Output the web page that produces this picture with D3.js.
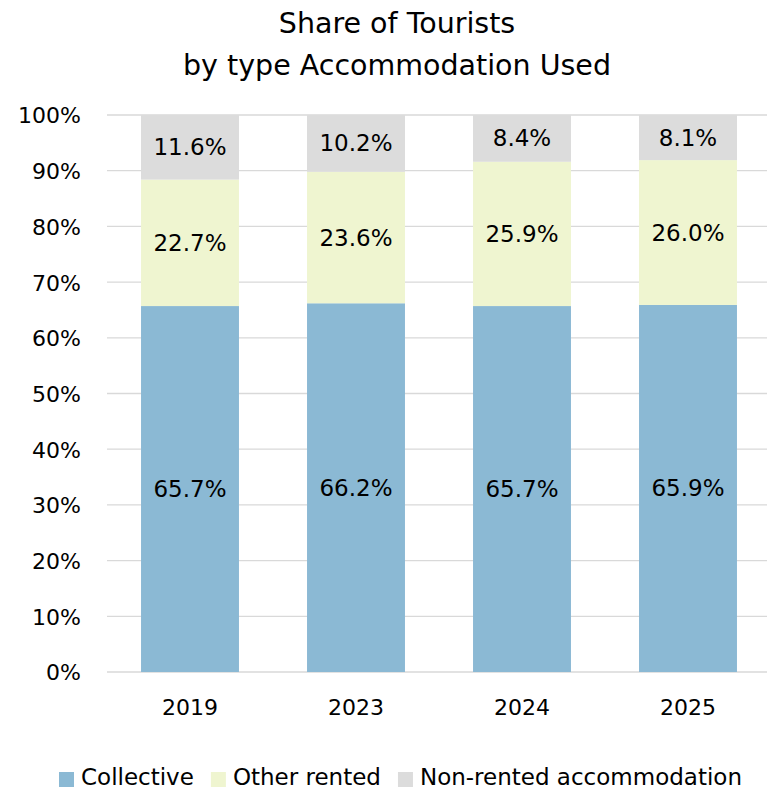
<!DOCTYPE html>
<html><head><meta charset="utf-8">
<script src="https://cdn.jsdelivr.net/npm/d3@7"></script>
<style>body{margin:0;background:#fff}svg{display:block}</style>
</head><body>
<script>
const years = ["2019","2023","2024","2025"];
const collective = [65.7, 66.2, 65.7, 65.9];
const otherRented = [22.7, 23.6, 25.9, 26.0];
const nonRented = [11.6, 10.2, 8.4, 8.1];
const seriesNames = ["Collective","Other rented","Non-rented accommodation"];
const yTicks = [0,10,20,30,40,50,60,70,80,90,100];

const W=767,H=789;
const colors=["#8BB9D4","#EFF5D0","#DCDCDC"];
const font="'DejaVu Sans', sans-serif";
const svg=d3.select("body").append("svg").attr("width",W).attr("height",H);
const x=d3.scaleBand().domain(years).range([107,771]).paddingInner(0.41).paddingOuter(0.205);
const y=d3.scaleLinear().domain([0,100]).range([672,115]);

svg.append("g").selectAll("line").data(yTicks).join("line")
 .attr("x1",107).attr("x2",W).attr("y1",d=>y(d)).attr("y2",d=>y(d))
 .attr("stroke","#D9D9D9").attr("stroke-width",1.3);

const rows=years.map((yr,i)=>({year:yr,Collective:collective[i],"Other rented":otherRented[i],"Non-rented accommodation":nonRented[i]}));
const stack=d3.stack().keys(seriesNames)(rows);
const g=svg.append("g");
stack.forEach((s,si)=>{
  g.selectAll(null).data(s).join("rect")
   .attr("x",d=>x(d.data.year)).attr("width",x.bandwidth())
   .attr("y",d=>y(d[1])).attr("height",d=>y(d[0])-y(d[1]))
   .attr("fill",colors[si]);
  g.selectAll(null).data(s).join("text")
   .attr("x",d=>x(d.data.year)+x.bandwidth()/2)
   .attr("y",d=>(y(d[0])+y(d[1]))/2+8)
   .attr("text-anchor","middle")
   .attr("font-family",font).attr("font-size",23).attr("fill","#000")
   .text(d=>(d[1]-d[0]).toFixed(1)+"%");
});

const axY=svg.append("g").attr("transform","translate(81,0)")
 .call(d3.axisLeft(y).tickValues(yTicks).tickFormat(d=>d+"%").tickSize(0).tickPadding(0));
axY.select(".domain").remove();
axY.selectAll("text").attr("font-family",font).attr("font-size",22).attr("fill","#000").attr("dy","0.36em");

const axX=svg.append("g").attr("transform","translate(0,672)")
 .call(d3.axisBottom(x).tickSize(0).tickPadding(0));
axX.select(".domain").remove();
axX.selectAll("text").attr("font-family",font).attr("font-size",22).attr("fill","#000").attr("dy",0).attr("y",43);

svg.append("text").attr("x",397).attr("y",33).attr("text-anchor","middle").attr("font-family",font).attr("font-size",28.5).text("Share of Tourists");
svg.append("text").attr("x",397).attr("y",75).attr("text-anchor","middle").attr("font-family",font).attr("font-size",28.5).text("by type Accommodation Used");

const lg=svg.append("g");
let lx=59;
seriesNames.forEach((n,i)=>{
  lg.append("rect").attr("x",lx).attr("y",772).attr("width",15).attr("height",15).attr("fill",colors[i]);
  const t=lg.append("text").attr("x",lx+22).attr("y",785).attr("font-family",font).attr("font-size",23).text(n);
  lx+=22+t.node().getComputedTextLength()+17;
});
</script>
</body></html>
